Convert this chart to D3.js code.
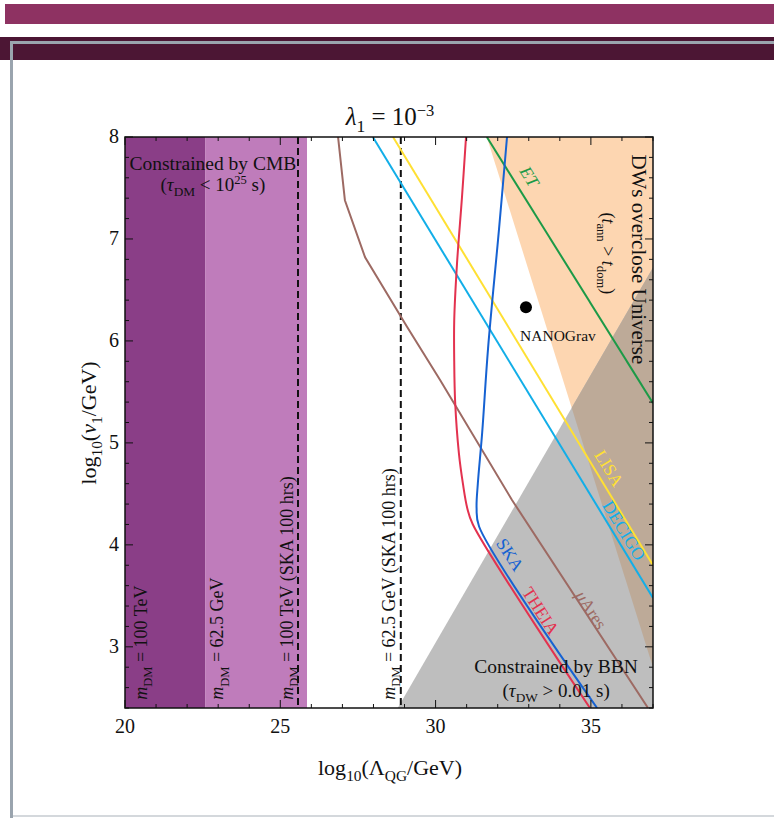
<!DOCTYPE html>
<html><head><meta charset="utf-8">
<script src="https://cdn.jsdelivr.net/npm/d3@7"></script>
<style>
body{margin:0;background:#fff}
svg{display:block}
text{font-family:"Liberation Serif","Times New Roman",serif;fill:#111}
</style>
</head><body>
<svg id="chart" width="774" height="818"></svg>
<script>
// ---- axes ----
const xDomain = [20, 37];           // log10(Λ_QG / GeV)
const yDomain = [2.4, 8];           // log10(v1 / GeV)
const xMajorTicks = [20, 25, 30, 35];
const yMajorTicks = [3, 4, 5, 6, 7, 8];

// ---- excluded bands from DM lifetime (CMB) ----
const cmbBandEdges = [20, 22.58, 25.86];       // 100 TeV, 62.5 GeV
const skaDashedX = [25.57, 28.88];             // SKA 100 hrs reach

// ---- shaded regions (polygon vertices in data units) ----
const overcloseRegion = [[31.65, 8], [37, 8], [37, 2.80]];
const bbnRegion = [[28.78, 2.4], [37, 6.72], [37, 2.4]];

// ---- GW detector sensitivity curves ----
const etCurve = [[31.65, 8], [37, 5.39]];
const lisaCurve = [[28.63, 8], [37, 3.80]];
const decigoCurve = [[27.98, 8], [37, 3.48]];
const aresCurve = [[26.86, 8], [27.08, 7.38], [27.73, 6.82], [29.08, 6.14], [30.14, 5.62], [32.46, 4.44], [36.84, 2.4]];
const theiaCurve = [[30.98, 8], [30.85, 7.41], [30.69, 6.76], [30.6, 6.2], [30.6, 5.8], [30.63, 5.4], [30.75, 4.9], [30.88, 4.6], [31.02, 4.36], [31.2, 4.2], [34.97, 2.4]];
const skaCurve = [[32.3, 8], [32.04, 7.09], [31.69, 5.93], [31.5, 5.1], [31.36, 4.6], [31.32, 4.36], [31.4, 4.18], [35.2, 2.4]];

// ---- NANOGrav benchmark point ----
const nanogravPoint = [32.91, 6.33];

const svg = d3.select("#chart");

// page frame
svg.append("rect").attr("x", 5).attr("y", 4).attr("width", 769).attr("height", 20).attr("fill", "#8e3262");
svg.append("rect").attr("x", 0).attr("y", 37).attr("width", 774).attr("height", 23).attr("fill", "#4c1634");
svg.append("rect").attr("x", 10).attr("y", 41).attr("width", 764).attr("height", 3).attr("fill", "#9aa4ae");
svg.append("rect").attr("x", 10).attr("y", 41).attr("width", 3).attr("height", 777).attr("fill", "#9aa4ae");
svg.append("rect").attr("x", 13).attr("y", 815).attr("width", 761).attr("height", 2).attr("fill", "#d4d8dc");

const L = 125, R = 653, T = 137, B = 708;
const x = d3.scaleLinear().domain(xDomain).range([L, R]);
const y = d3.scaleLinear().domain(yDomain).range([B, T]);

svg.append("clipPath").attr("id", "plotclip")
  .append("rect").attr("x", L).attr("y", T).attr("width", R - L).attr("height", B - T);
svg.append("clipPath").attr("id", "overclip")
  .append("path").attr("d", "M" + overcloseRegion.map(d => [x(d[0]), y(d[1])].join(",")).join("L") + "Z");

const plot = svg.append("g").attr("clip-path", "url(#plotclip)");
const poly = d => "M" + d.map(p => [x(p[0]), y(p[1])].join(",")).join("L") + "Z";

// CMB bands
const bandColors = ["#8a3e87", "#bf7cbb"];
for (let i = 0; i < cmbBandEdges.length - 1; i++) {
  plot.append("rect")
    .attr("x", x(cmbBandEdges[i])).attr("y", T)
    .attr("width", x(cmbBandEdges[i + 1]) - x(cmbBandEdges[i])).attr("height", B - T)
    .attr("fill", bandColors[i]);
}

// overclosure and BBN regions, with their overlap
plot.append("path").attr("d", poly(overcloseRegion)).attr("fill", "#fdd6b1");
plot.append("path").attr("d", poly(bbnRegion)).attr("fill", "#bebebe");
plot.append("path").attr("d", poly(bbnRegion)).attr("fill", "#bdaa98").attr("clip-path", "url(#overclip)");

// SKA dashed reach lines
skaDashedX.forEach(v => {
  plot.append("line").attr("x1", x(v)).attr("x2", x(v)).attr("y1", T).attr("y2", B)
    .attr("stroke", "#111").attr("stroke-width", 2).attr("stroke-dasharray", "7,4");
});

// sensitivity curves
const lineLin = d3.line().x(d => x(d[0])).y(d => y(d[1]));
const lineSmooth = d3.line().x(d => x(d[0])).y(d => y(d[1])).curve(d3.curveCatmullRom.alpha(0.5));
const curves = [
  {data: aresCurve, color: "#9d6a63", gen: lineLin},
  {data: decigoCurve, color: "#12aee8", gen: lineLin},
  {data: lisaCurve, color: "#ffe033", gen: lineLin},
  {data: etCurve, color: "#1c9a47", gen: lineLin},
  {data: theiaCurve, color: "#e3324f", gen: lineSmooth},
  {data: skaCurve, color: "#1662d2", gen: lineSmooth}
];
curves.forEach(c => {
  plot.append("path").attr("d", c.gen(c.data)).attr("fill", "none")
    .attr("stroke", c.color).attr("stroke-width", 2);
});

// NANOGrav point
plot.append("circle").attr("cx", x(nanogravPoint[0])).attr("cy", y(nanogravPoint[1])).attr("r", 6).attr("fill", "#000");

// rich text helper: segments [text, kind] with kind in {"", "it", "sub", "sup", "itsub"}
function rich(sel, segs, size) {
  let shift = 0;
  segs.forEach(([t, k]) => {
    const ts = sel.append("tspan").text(t);
    let target = 0, fs = size;
    if (k === "sub" || k === "itsub") { target = size * 0.28; fs = size * 0.7; }
    if (k === "sup") { target = -size * 0.36; fs = size * 0.66; }
    ts.attr("font-size", fs);
    if (k === "it" || k === "itsub") ts.attr("font-style", "italic");
    if (target !== shift) { ts.attr("dy", target - shift); shift = target; }
  });
}
function label(g, segs, size, px, py, opts = {}) {
  const t = g.append("text")
    .attr("text-anchor", opts.anchor || "middle")
    .attr("font-size", size)
    .attr("transform", `translate(${px},${py}) rotate(${opts.rot || 0})`);
  if (opts.color) t.style("fill", opts.color);
  rich(t, segs, size);
  return t;
}
const ann = svg.append("g");
const angleOf = c => Math.atan2(y(c[c.length - 1][1]) - y(c[c.length - 2][1]), x(c[c.length - 1][0]) - x(c[c.length - 2][0])) * 180 / Math.PI;

// region annotations
label(ann, [["Constrained by CMB", ""]], 19.5, x(22.83), y(7.68));
label(ann, [["(", ""], ["τ", "it"], ["DM", "sub"], [" < 10", ""], ["25", "sup"], [" s)", ""]], 19, x(22.83), y(7.47));
label(ann, [["Constrained by BBN", ""]], 19.5, x(33.88), y(2.74));
label(ann, [["(", ""], ["τ", "it"], ["DW", "sub"], [" > 0.01 s)", ""]], 19, x(33.88), y(2.51));
label(ann, [["DWs overclose Universe", ""]], 21, x(36.33), y(6.8), {rot: 90});
label(ann, [["(", ""], ["t", "it"], ["ann", "sub"], [" > ", ""], ["t", "it"], ["dom", "sub"], [")", ""]], 18, x(35.36), y(7.26), {rot: 90, anchor: "start"});
label(ann, [["NANOGrav", ""]], 15.5, x(32.72), y(6.0), {anchor: "start"});

// vertical DM-mass labels
const massLabels = [
  {xv: 20.72, segs: [["m", "it"], ["DM", "sub"], [" = 100 TeV", ""]]},
  {xv: 23.17, segs: [["m", "it"], ["DM", "sub"], [" = 62.5 GeV", ""]]},
  {xv: 25.4, segs: [["m", "it"], ["DM", "sub"], [" = 100 TeV (SKA 100 hrs)", ""]]},
  {xv: 28.7, segs: [["m", "it"], ["DM", "sub"], [" = 62.5 GeV (SKA 100 hrs)", ""]]}
];
massLabels.forEach(m => label(ann, m.segs, 18, x(m.xv), y(2.48), {anchor: "start", rot: -90}));

// detector labels along the curves
const detLabels = [
  {segs: [["ET", "it"]], xv: 32.86, yv: 7.63, color: "#1c9a47", c: etCurve},
  {segs: [["LISA", ""]], xv: 35.42, yv: 4.77, color: "#ffe033", c: lisaCurve},
  {segs: [["DECIGO", ""]], xv: 35.9, yv: 4.16, color: "#12aee8", c: decigoCurve},
  {segs: [["SKA", ""]], xv: 32.24, yv: 3.92, color: "#1662d2", c: skaCurve},
  {segs: [["THEIA", ""]], xv: 33.22, yv: 3.37, color: "#e3324f", c: theiaCurve},
  {segs: [["μ", "it"], ["Ares", ""]], xv: 34.85, yv: 3.38, color: "#9d6a63", c: aresCurve}
];
detLabels.forEach(d => label(ann, d.segs, 17.5, x(d.xv), y(d.yv) + 5, {rot: angleOf(d.c), color: d.color}));

// frame and ticks (inward on all sides)
const axes = svg.append("g");
axes.append("rect").attr("x", L).attr("y", T).attr("width", R - L).attr("height", B - T)
  .attr("fill", "none").attr("stroke", "#111").attr("stroke-width", 1.5);
const xMinor = d3.range(xDomain[0], xDomain[1] + 0.001, 1).filter(v => !xMajorTicks.includes(v));
const yMinor = d3.range(2.4, 8.001, 0.2).map(v => +v.toFixed(1)).filter(v => !yMajorTicks.includes(v));
function tick(x1, y1, x2, y2) {
  axes.append("line").attr("x1", x1).attr("y1", y1).attr("x2", x2).attr("y2", y2).attr("stroke", "#111").attr("stroke-width", 1);
}
xMajorTicks.forEach(v => { tick(x(v), B, x(v), B - 8); tick(x(v), T, x(v), T + 8); });
xMinor.forEach(v => { tick(x(v), B, x(v), B - 4); tick(x(v), T, x(v), T + 4); });
yMajorTicks.forEach(v => { tick(L, y(v), L + 8, y(v)); tick(R, y(v), R - 8, y(v)); });
yMinor.forEach(v => { tick(L, y(v), L + 4, y(v)); tick(R, y(v), R - 4, y(v)); });

xMajorTicks.forEach(v => axes.append("text").attr("x", x(v)).attr("y", B + 25).attr("text-anchor", "middle").attr("font-size", 20).text(v));
yMajorTicks.forEach(v => axes.append("text").attr("x", L - 6).attr("y", y(v) + 6).attr("text-anchor", "end").attr("font-size", 20).text(v));

// titles
label(svg, [["λ", "it"], ["1", "sub"], [" = 10", ""], ["−3", "sup"]], 25, 390, 125);
label(svg, [["log", ""], ["10", "sub"], ["(Λ", ""], ["QG", "sub"], ["/GeV)", ""]], 22, 390, 775);
label(svg, [["log", ""], ["10", "sub"], ["(", ""], ["v", "it"], ["1", "sub"], ["/GeV)", ""]], 22, 96, 423, {rot: -90});
</script>
</body></html>
